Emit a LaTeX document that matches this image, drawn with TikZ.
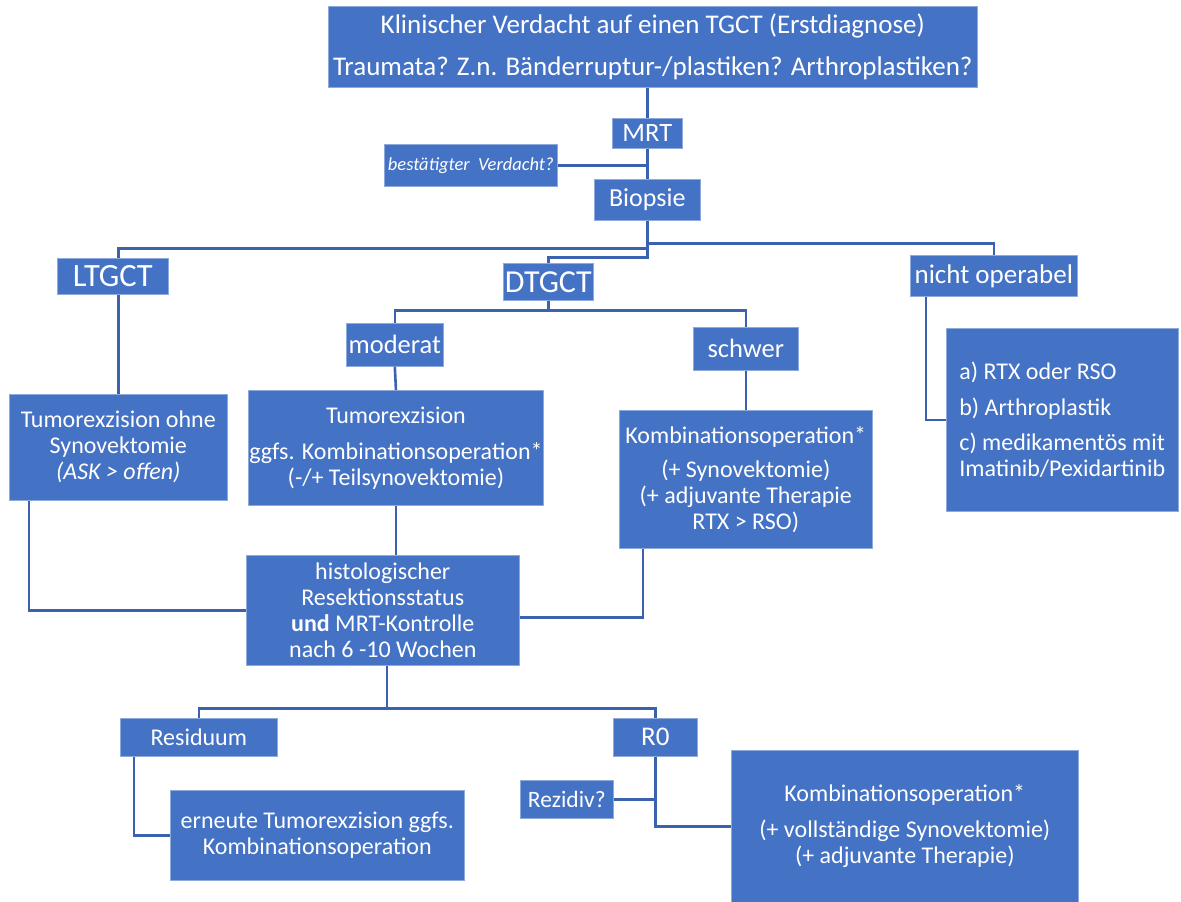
\documentclass[tikz,border=0pt]{standalone}
\usepackage{fontspec}
\setmainfont{Carlito}
\usetikzlibrary{positioning}

\definecolor{boxblue}{HTML}{4472C4}
\definecolor{boxrim}{HTML}{8EA9DB}
\definecolor{linkblue}{HTML}{3B62AE}

\tikzset{
  box/.style={rectangle, fill=boxblue, draw=boxrim, line width=0.6pt, text=white,
    align=center, inner sep=1pt, anchor=north west, font=\fontsize{24}{26}\selectfont},
  link/.style={draw=linkblue, line width=2.6pt},
}

\begin{document}
\begin{tikzpicture}[x=1pt, y=-1pt]
  \useasboundingbox (0,0) rectangle (1181,902);

  % Erstdiagnose und Bildgebung
  \node[box, minimum width=649, minimum height=81, font=\fontsize{27}{29}\selectfont] (verdacht) at (328,6)
    {Klinischer Verdacht auf einen TGCT (Erstdiagnose)\\[13pt]
     Traumata? Z.n. Bänderruptur-/plastiken? Arthroplastiken?};
  \node[box, minimum width=70, minimum height=30, font=\fontsize{26.5}{28}\selectfont] (mrt) at (612,118) {MRT};
  \node[box, minimum width=173, minimum height=42, font=\fontsize{18.5}{20}\selectfont\itshape] (frage) at (384,144)
    {bestätigter\ \ Verdacht?};
  \node[box, minimum width=106, minimum height=41, font=\fontsize{26}{28}\selectfont] (biopsie) at (594,179) {Biopsie};

  \draw[link] (mrt.north |- verdacht.south) -- (mrt.north);
  \draw[link] (mrt.south) -- (biopsie.north);
  \draw[link] (frage.east) -- (frage.east -| mrt.south);

  % Subtypen
  \node[box, minimum width=111, minimum height=36, font=\fontsize{32.5}{34}\selectfont] (ltgct) at (57,258) {LTGCT};
  \node[box, minimum width=90, minimum height=37, font=\fontsize{32}{34}\selectfont] (dtgct) at (503,263) {DTGCT};
  \node[box, minimum width=167, minimum height=41, font=\fontsize{27}{29}\selectfont] (nichtop) at (910,255) {nicht operabel};
  \node[box, minimum width=97, minimum height=43, font=\fontsize{26.5}{28}\selectfont] (moderat) at (346,323) {moderat};
  \node[box, minimum width=105, minimum height=43, font=\fontsize{26.5}{28}\selectfont] (schwer) at (693,327) {schwer};

  \node[box, minimum width=218, minimum height=106] (ohne) at (9,394)
    {Tumorexzision ohne\\ Synovektomie\\ \textit{(ASK > offen)}};
  \node[box, minimum width=294, minimum height=115] (tumor) at (248,390)
    {Tumorexzision\\[10pt] ggfs. Kombinationsoperation*\\ (-/+ Teilsynovektomie)};
  \node[box, minimum width=253, minimum height=138] (kombi) at (619,410)
    {Kombinationsoperation*\\[8pt] (+ Synovektomie)\\ (+ adjuvante Therapie\\ RTX > RSO)};
  \node[box, minimum width=232, minimum height=183, align=left] (abc) at (946,328)
    {a) RTX oder RSO\\[10pt] b) Arthroplastik\\[9pt] c) medikamentös mit\\ Imatinib/Pexidartinib};

  \draw[link] (biopsie.south) -- ++(0,28) -| (ohne.north |- ltgct.north);
  \draw[link] (biopsie.south) -- ++(0,23) -| (nichtop.north);
  \draw[link] (biopsie.south) -- ++(0,37) -| (dtgct.north);
  \draw[link] (dtgct.south) -- ++(0,10) -| (moderat.north);
  \draw[link] (dtgct.south) -- ++(0,10) -| (schwer.north);
  \draw[link] (ohne.north |- ltgct.south) -- (ohne.north);
  \draw[link] (moderat.south) -- (tumor.north);
  \draw[link] (schwer.south) -- (kombi.north);
  \draw[link] ([xshift=16]nichtop.south west) |- (abc.west);

  % Resektionsstatus
  \node[box, minimum width=273, minimum height=110] (histo) at (246,555)
    {histologischer\\ Resektionsstatus\\ \textbf{und} MRT-Kontrolle\\ nach 6 -10 Wochen};
  \draw[link] ([xshift=20]ohne.south west) |- (histo.west);
  \draw[link] (tumor.south) -- (tumor.south |- histo.north);
  \draw[link] ([xshift=24]kombi.south west) |- ([yshift=-7]histo.east);

  \node[box, minimum width=157, minimum height=38] (resid) at (120,718) {Residuum};
  \node[box, minimum width=84, minimum height=38, font=\fontsize{27}{29}\selectfont] (rnull) at (613,718) {R0};
  \node[box, minimum width=93, minimum height=38, font=\fontsize{23.5}{26}\selectfont] (rezidiv) at (520,780) {Rezidiv?};
  \node[box, minimum width=294, minimum height=90] (erneut) at (170,790)
    {erneute Tumorexzision ggfs.\\ Kombinationsoperation};
  \node[box, minimum width=347, minimum height=152] (kombizwei) at (731,750)
    {Kombinationsoperation*\\[10pt] (+ vollständige Synovektomie)\\ (+ adjuvante Therapie)};

  \draw[link] ([xshift=4]histo.south) -- ++(0,43) -| (resid.north);
  \draw[link] ([xshift=4]histo.south) -- ++(0,43) -| (rnull.north);
  \draw[link] ([xshift=14]resid.south west) |- (erneut.west);
  \draw[link] (rnull.south) |- (kombizwei.west);
  \draw[link] (rezidiv.east) -- (rezidiv.east -| rnull.south);
\end{tikzpicture}
\end{document}
